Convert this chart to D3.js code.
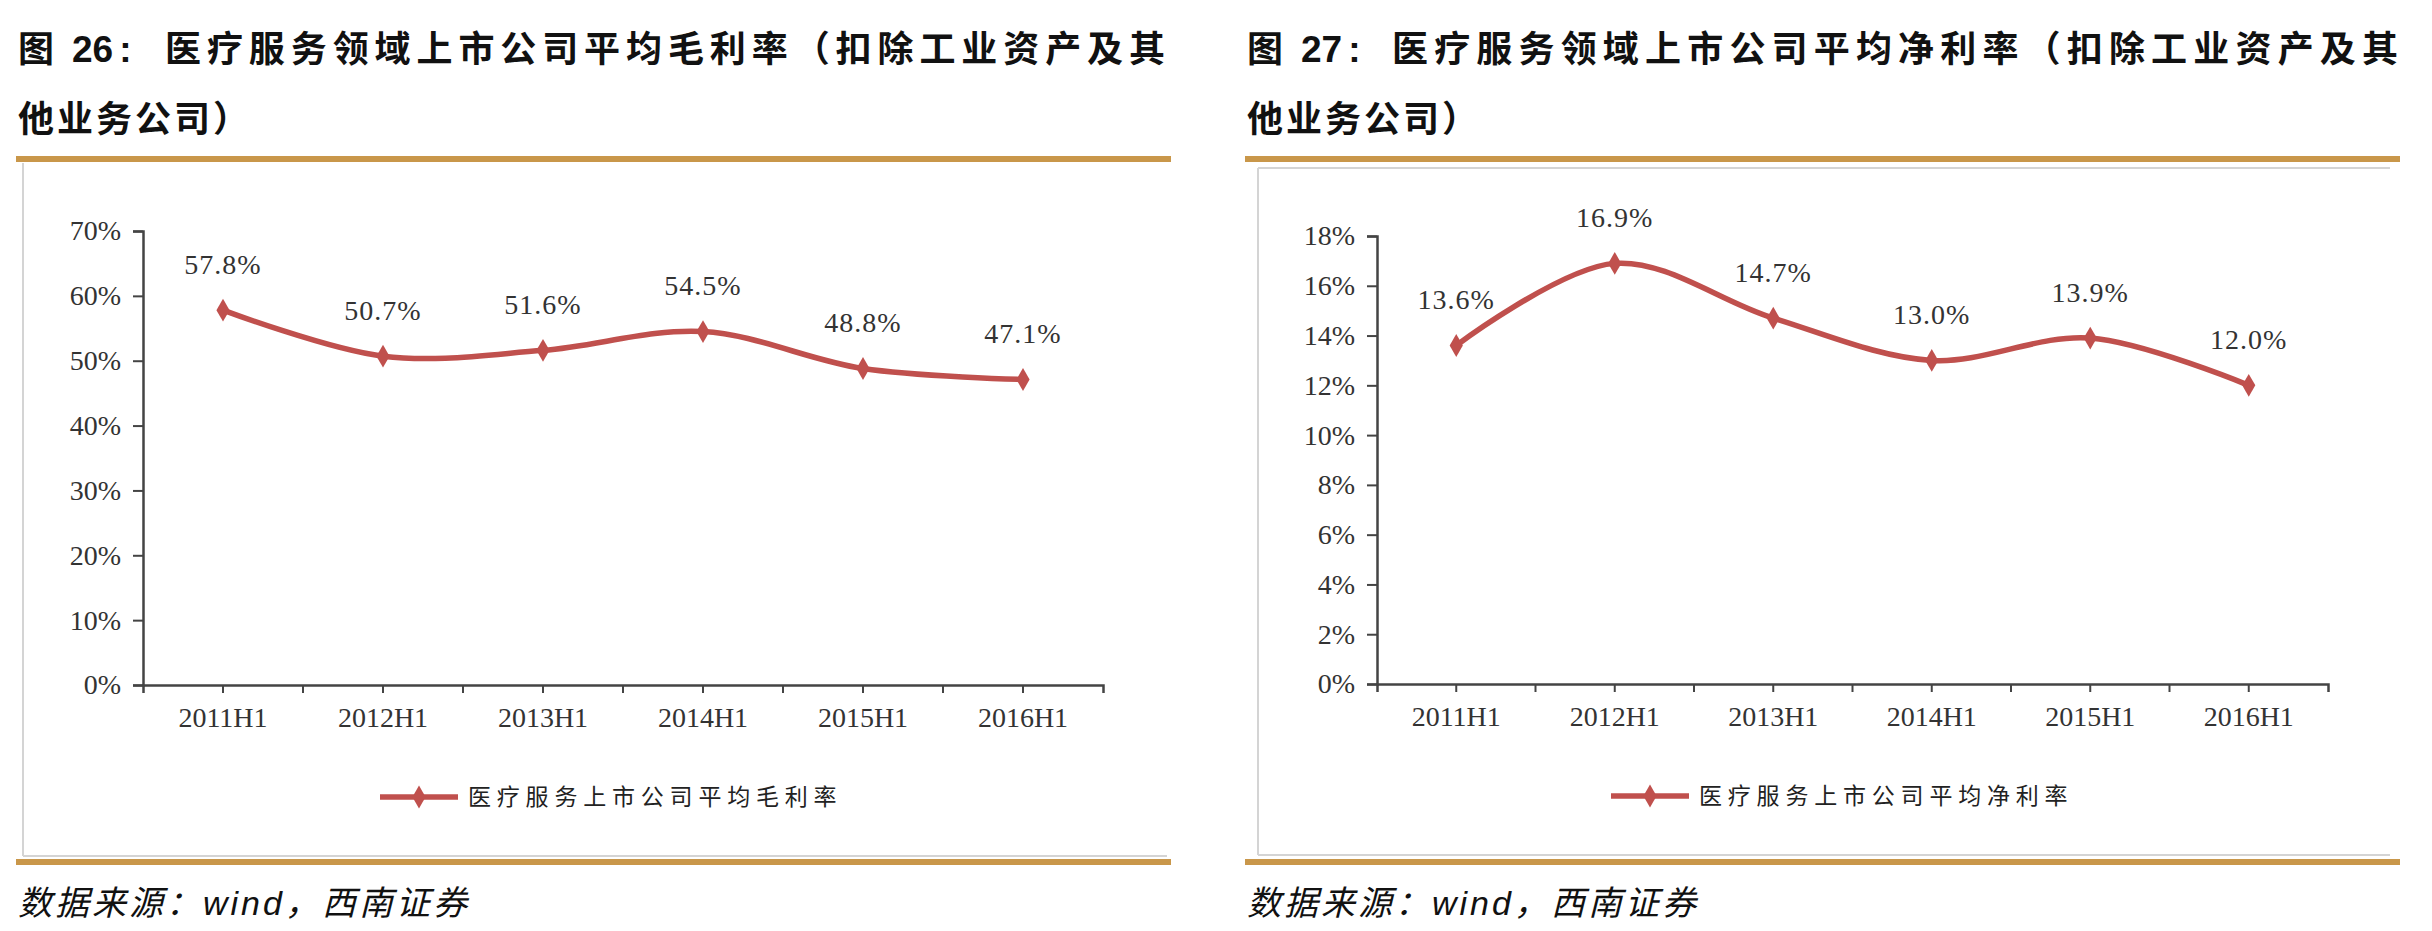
<!DOCTYPE html>
<html>
<head>
<meta charset="utf-8">
<script src="https://cdn.jsdelivr.net/npm/d3@7"></script>
<style>
  body { margin: 0; background: #fff; }
  svg { display: block; }
</style>
</head>
<body>
<div id="chart"></div>
<script>
// data
const categories = ["2011H1", "2012H1", "2013H1", "2014H1", "2015H1", "2016H1"];
const grossMargin = [57.8, 50.7, 51.6, 54.5, 48.8, 47.1];
const netMargin = [13.6, 16.9, 14.7, 13.0, 13.9, 12.0];
const grossTicks = [0, 10, 20, 30, 40, 50, 60, 70];
const netTicks = [0, 2, 4, 6, 8, 10, 12, 14, 16, 18];

const grossTitle = ["医疗服务领域上市公司平均毛利率（扣除工业资产及其", "他业务公司）"];
const netTitle = ["医疗服务领域上市公司平均净利率（扣除工业资产及其", "他业务公司）"];
const grossLegend = "医疗服务上市公司平均毛利率";
const netLegend = "医疗服务上市公司平均净利率";
const sourceText = ["数据来源：", "wind", "，西南证券"];

width = 2432
height = 931

const red = "#C0504D";
const gold = "#C9974A";
const axisColor = "#444";
const serif = "'Liberation Serif', 'DejaVu Serif', serif";
const cjk = "'Noto Sans CJK SC', sans-serif";
const latin = "'Liberation Sans', Arial, sans-serif";

const svg = d3.select("#chart")
  .append("svg")
  .attr("width", width)
  .attr("height", height);

function drawPanel(opt) {
  const g = svg.append("g");

  // title, number part then the justified rest
  const t0 = g.append("text")
      .attr("x", opt.left)
      .attr("y", 62)
      .style("font-family", cjk)
      .style("font-weight", "bold")
      .style("font-size", "36px")
      .attr("fill", "#111");
  t0.append("tspan").text("图");
  t0.append("tspan").attr("dx", 18).style("font-family", latin).style("font-size", "37px").text(opt.num);
  t0.append("tspan").attr("dx", 6).style("font-family", latin).style("font-size", "37px").text(":");

  g.append("text")
      .attr("x", opt.titleX)
      .attr("y", 62)
      .attr("textLength", opt.titleWidth)
      .attr("lengthAdjust", "spacing")
      .style("font-family", cjk)
      .style("font-weight", "bold")
      .style("font-size", "36px")
      .attr("fill", "#111")
      .text(opt.title[0]);

  g.append("text")
      .attr("x", opt.left)
      .attr("y", 132)
      .style("font-family", cjk)
      .style("font-weight", "bold")
      .style("font-size", "36px")
      .style("letter-spacing", "3px")
      .attr("fill", "#111")
      .text(opt.title[1]);

  // gold rules
  g.append("rect")
      .attr("x", opt.left - 2).attr("y", 156)
      .attr("width", opt.ruleWidth).attr("height", 6)
      .attr("fill", gold);
  g.append("rect")
      .attr("x", opt.left - 2).attr("y", 859)
      .attr("width", opt.ruleWidth).attr("height", 6)
      .attr("fill", gold);

  // frame
  const b = opt.box;
  const frame = g.append("g").attr("stroke", "#d4d4d4").attr("stroke-width", 2).attr("fill", "none");
  frame.append("line").attr("x1", b.x0).attr("x2", b.x0).attr("y1", b.y0).attr("y2", b.y1);
  frame.append("line").attr("x1", b.x0).attr("x2", b.x1).attr("y1", b.y1).attr("y2", b.y1);
  if (opt.boxTop) {
    frame.append("line").attr("x1", b.x0).attr("x2", b.x1).attr("y1", b.y0).attr("y2", b.y0);
  }

  // scales
  const x = d3.scaleBand()
      .domain(categories)
      .range([opt.x0, opt.x1])
      .padding(0);
  const y = d3.scaleLinear()
      .domain([0, d3.max(opt.ticks)])
      .range([opt.y0, opt.y1]);

  // y axis
  const yAxis = g.append("g")
      .attr("transform", `translate(${opt.x0},0)`)
      .call(d3.axisLeft(y).tickValues(opt.ticks).tickSize(10).tickPadding(12).tickFormat(d => d + "%"));
  yAxis.select(".domain").attr("stroke", axisColor).attr("stroke-width", 2.5);
  yAxis.selectAll(".tick line").attr("stroke", axisColor).attr("stroke-width", 2);
  yAxis.selectAll(".tick text")
      .attr("fill", "#333")
      .style("font-family", serif)
      .style("font-size", "28px");

  // x axis
  const xAxis = g.append("g")
      .attr("transform", `translate(0,${opt.y0})`)
      .call(d3.axisBottom(x).tickSize(8).tickSizeOuter(8).tickPadding(14));
  xAxis.select(".domain").attr("stroke", axisColor).attr("stroke-width", 2.5);
  xAxis.selectAll(".tick line").attr("stroke", axisColor).attr("stroke-width", 2);
  xAxis.selectAll(".tick text")
      .attr("fill", "#333")
      .style("font-family", serif)
      .style("font-size", "28px");

  // boundary ticks between categories
  g.append("g")
      .selectAll("line")
      .data(categories.slice(1))
      .join("line")
        .attr("x1", d => x(d))
        .attr("x2", d => x(d))
        .attr("y1", opt.y0)
        .attr("y2", opt.y0 + 8)
        .attr("stroke", axisColor)
        .attr("stroke-width", 2);

  // line
  const pts = categories.map((c, i) => [x(c) + x.bandwidth() / 2, y(opt.values[i])]);
  const line = d3.line().curve(d3.curveCatmullRom.alpha(0.5));
  g.append("path")
      .attr("d", line(pts))
      .attr("fill", "none")
      .attr("stroke", red)
      .attr("stroke-width", 5.5)
      .attr("stroke-linejoin", "round");

  const diamond = d3.symbol().type(d3.symbolDiamond).size(150);
  g.append("g")
    .selectAll("path")
    .data(pts)
    .join("path")
      .attr("d", diamond)
      .attr("transform", d => `translate(${d[0]},${d[1]})`)
      .attr("fill", red);

  g.append("g")
    .selectAll("text")
    .data(opt.values)
    .join("text")
      .attr("x", (d, i) => pts[i][0])
      .attr("y", (d, i) => pts[i][1] - 46)
      .attr("dy", "0.35em")
      .attr("text-anchor", "middle")
      .attr("fill", "#333")
      .style("font-family", serif)
      .style("font-size", "28px")
      .style("letter-spacing", "1px")
      .text(d => d3.format(".1f")(d) + "%");

  // legend
  const lg = g.append("g").attr("transform", `translate(${opt.legendX},${opt.legendY})`);
  lg.append("line")
      .attr("x1", 0).attr("x2", 78)
      .attr("stroke", red).attr("stroke-width", 5.5);
  lg.append("path")
      .attr("d", diamond)
      .attr("transform", "translate(39,0)")
      .attr("fill", red);
  lg.append("text")
      .attr("x", 88)
      .attr("dy", "0.36em")
      .attr("fill", "#222")
      .style("font-family", cjk)
      .style("font-size", "23px")
      .style("letter-spacing", "5.8px")
      .text(opt.legend);

  // source
  const st = g.append("text")
      .attr("x", opt.left)
      .attr("y", 915)
      .attr("fill", "#111")
      .style("font-family", cjk)
      .style("font-style", "italic")
      .style("font-size", "34px")
      .style("letter-spacing", "3px");
  st.append("tspan").text(sourceText[0]);
  st.append("tspan").style("font-family", latin).text(sourceText[1]);
  st.append("tspan").text(sourceText[2]);
}

drawPanel({
  left: 18, num: "26", title: grossTitle, titleX: 165, titleWidth: 1000, ruleWidth: 1155,
  box: {x0: 23, x1: 1167, y0: 163, y1: 856}, boxTop: false,
  x0: 143, x1: 1103, y0: 685, y1: 231,
  ticks: grossTicks, values: grossMargin,
  legend: grossLegend, legendX: 380, legendY: 797
});

drawPanel({
  left: 1247, num: "27", title: netTitle, titleX: 1392, titleWidth: 1006, ruleWidth: 1155,
  box: {x0: 1258, x1: 2390, y0: 168, y1: 855}, boxTop: true,
  x0: 1377, x1: 2328, y0: 684, y1: 236,
  ticks: netTicks, values: netMargin,
  legend: netLegend, legendX: 1611, legendY: 796
});
</script>
</body>
</html>
